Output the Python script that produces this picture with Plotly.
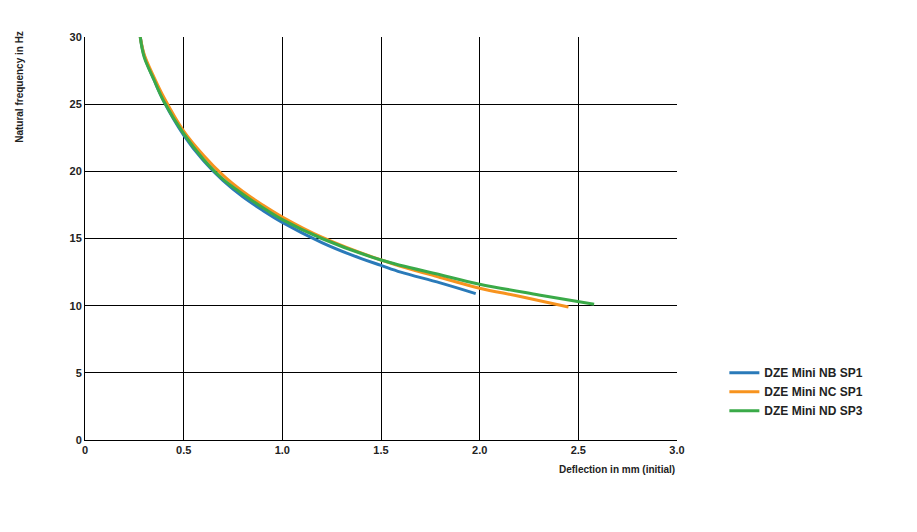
import plotly.graph_objects as go

nb_x = [0.28, 0.30, 0.35, 0.40, 0.50, 0.60, 0.70, 0.80, 0.90, 1.00, 1.20, 1.40, 1.50, 1.60, 1.80, 1.98]
nb_y = [30.0, 28.6, 26.8, 25.2, 22.7, 20.8, 19.3, 18.1, 17.1, 16.2, 14.7, 13.5, 13.0, 12.5, 11.7, 10.9]
nc_x = [0.28, 0.30, 0.35, 0.40, 0.50, 0.60, 0.70, 0.80, 0.90, 1.00, 1.20, 1.50, 1.80, 2.00, 2.20, 2.45]
nc_y = [30.0, 28.7, 27.0, 25.5, 23.0, 21.2, 19.7, 18.5, 17.5, 16.6, 15.1, 13.4, 12.1, 11.3, 10.7, 9.9]
nd_x = [0.28, 0.30, 0.35, 0.40, 0.50, 0.60, 0.70, 0.80, 0.90, 1.00, 1.20, 1.50, 1.80, 2.00, 2.30, 2.58]
nd_y = [30.0, 28.5, 26.8, 25.2, 22.8, 20.9, 19.4, 18.3, 17.3, 16.4, 15.0, 13.4, 12.3, 11.6, 10.8, 10.1]

series = [("<b>DZE Mini NB SP1</b>", nb_x, nb_y, "#2a7ab9"),
          ("<b>DZE Mini NC SP1</b>", nc_x, nc_y, "#f7931e"),
          ("<b>DZE Mini ND SP3</b>", nd_x, nd_y, "#3aaa48")]

fig = go.Figure()
for name, x, y, c in series:
    fig.add_trace(go.Scatter(x=x, y=y, name=name, mode="lines",
                             line=dict(color=c, width=3, shape="spline")))

font = dict(family="Liberation Sans", size=11, color="#222")
fig.update_layout(
    width=917, height=532, margin=dict(l=77, r=248, t=29, b=100),
    paper_bgcolor="white", plot_bgcolor="white", font=font,
    legend=dict(x=1.08, y=0.12, xanchor="left", yanchor="middle",
                font=dict(family="Liberation Sans", size=12, color="#222"),
                tracegroupgap=0, itemwidth=30),
    xaxis=dict(range=[0, 3], tickvals=[0, 0.5, 1, 1.5, 2, 2.5, 3],
               ticktext=["<b>0</b>", "<b>0.5</b>", "<b>1.0</b>", "<b>1.5</b>", "<b>2.0</b>", "<b>2.5</b>", "<b>3.0</b>"],
               showgrid=True, gridcolor="black", gridwidth=1, showline=True, linecolor="black",
               zeroline=False, ticks="", ticklen=0),
    yaxis=dict(range=[0, 30], tickvals=[0, 5, 10, 15, 20, 25, 30],
               ticktext=["<b>%d</b>" % v for v in [0, 5, 10, 15, 20, 25, 30]],
               showgrid=True, gridcolor="black", gridwidth=1, showline=True, linecolor="black",
               zeroline=False, ticks=""),
    annotations=[
        dict(text="<b>Deflection in mm (initial)</b>", x=1, y=-0.055, xref="paper", yref="paper",
             xanchor="right", yanchor="top", showarrow=False, font=dict(size=10, color="#222")),
        dict(text="<b>Natural frequency in Hz</b>", x=-0.11, y=1.02, xref="paper", yref="paper",
             xanchor="center", yanchor="top", textangle=-90, showarrow=False, font=dict(size=10, color="#222")),
    ],
)
fig.write_html("out.html")
